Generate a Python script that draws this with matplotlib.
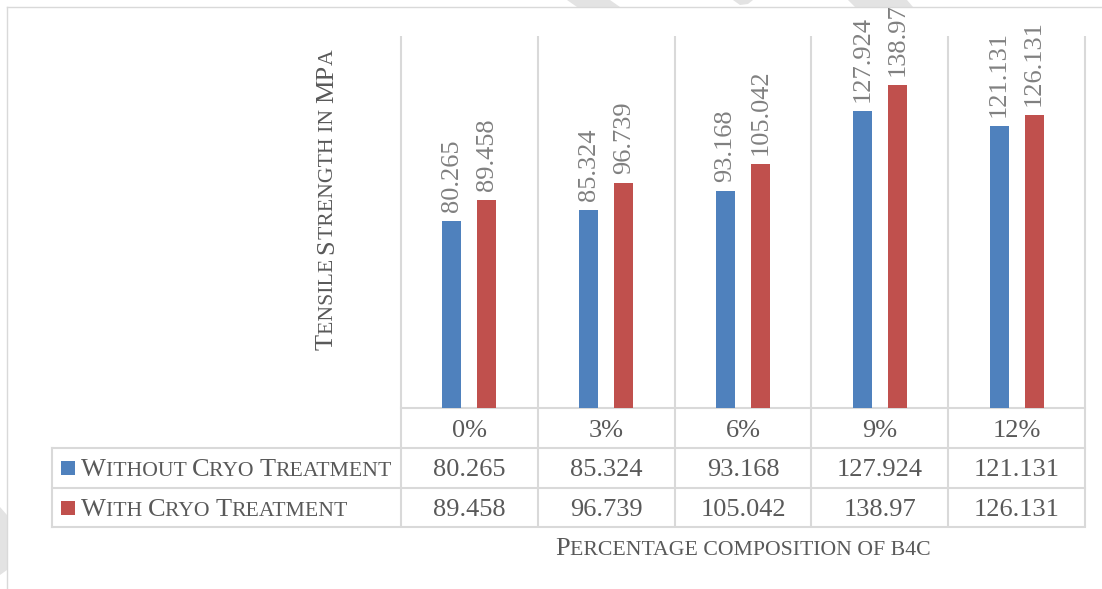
import numpy as np
import matplotlib
matplotlib.use("Agg")
import matplotlib.pyplot as plt
from matplotlib.patches import Polygon, Rectangle

# ---------------- data ----------------
categories = ["0%", "3%", "6%", "9%", "12%"]
without_cryo = [80.265, 85.324, 93.168, 127.924, 121.131]
with_cryo = [89.458, 96.739, 105.042, 138.97, 126.131]
series_names = ["Without Cryo Treatment", "With Cryo Treatment"]
y_title = "Tensile Strength in MPa"
x_title = "Percentage composition of b4c"

# ---------------- style ----------------
W, H, DPI = 1102, 589, 100
FONT = "Liberation Serif"
GRAY = "#595959"
LABEL_GRAY = "#808080"
LINE = "#d9d9d9"
BLUE = "#4f81bd"
RED = "#c0504d"
BIG, SMALL = 19, 15.7

fig = plt.figure(figsize=(W / DPI, H / DPI), dpi=DPI)
fig.patch.set_facecolor("white")

# overlay axes in pixel coordinates (y downward)
ov = fig.add_axes([0, 0, 1, 1], zorder=0)
ov.set_xlim(0, W)
ov.set_ylim(H, 0)
ov.axis("off")

# plot area (pixels)
L, R, T, B = 401, 1085, 36, 408
ax = fig.add_axes([L / W, 1 - B / H, (R - L) / W, (B - T) / H], zorder=1)
ax.patch.set_alpha(0)
x = np.arange(len(categories))
off, bw = 0.128, 0.139
series = [without_cryo, with_cryo]
colors = [BLUE, RED]
for k, (vals, col) in enumerate(zip(series, colors)):
    xs = x + (-off if k == 0 else off)
    ax.bar(xs, vals, bw, color=col, zorder=2)
    for xi, v in zip(xs, vals):
        ax.annotate(f"{v}", xy=(xi, v), xytext=(0, 6.5), textcoords="offset points",
                    rotation=90, ha="center", va="bottom", fontsize=19,
                    color=LABEL_GRAY, family=FONT)
ax.set_xlim(-0.5, len(categories) - 0.5)
ax.set_ylim(0, 160)
ax.axis("off")

# column edges in pixels from the axes transform
def to_px(xd):
    return ax.transData.transform((xd, 0))[0]

edges = [to_px(e) for e in np.arange(-0.5, len(categories), 1.0)]
centers = [to_px(c) for c in x]

# table geometry
rows = [408, 448, 488, 527]
TL = 52
for e in edges:
    ov.plot([e, e], [T, rows[-1]], color=LINE, lw=1.5, solid_capstyle="butt")
ov.plot([edges[0], edges[-1]], [rows[0], rows[0]], color=LINE, lw=1.5)
for r in rows[1:]:
    ov.plot([TL, edges[-1]], [r, r], color=LINE, lw=1.5)
ov.plot([TL, TL], [rows[1], rows[-1]], color=LINE, lw=1.5)

# outer chart border and watermark fragments
ov.plot([7, W], [7, 7], color=LINE, lw=1)
ov.plot([7, 7], [7, H], color=LINE, lw=1)
for pts in [[(567, 0), (610, 0), (620, 7), (577, 7)],
            [(733, 0), (753, 0), (748, 4), (740, 5)],
            [(848, 0), (907, 0), (913, 7), (855, 7)],
            [(0, 507), (7, 515), (7, 570), (0, 575)]]:
    ov.add_patch(Polygon(pts, closed=True, color="#e3e3e3", lw=0))

renderer = fig.canvas.get_renderer()


def _w(txt, size):
    t = fig.text(0, 0, txt, fontsize=size, family=FONT)
    bb = t.get_window_extent(renderer)
    t.remove()
    return bb.width


def adv(s, size):
    return _w("X" + s + "X", size) - _w("XX", size)


def runs(text):
    out = []
    for ch in text:
        if ch.isalpha() and ch.isupper():
            sz, c = BIG, ch
        elif ch.isalpha():
            sz, c = SMALL, ch.upper()
        else:
            sz, c = SMALL, ch
        if out and out[-1][1] == sz:
            out[-1][0] += c
        else:
            out.append([c, sz])
    return out


def smallcaps(px, py, text, rotation=0, ha="left"):
    rs = runs(text)
    advs = [adv(s, sz) for s, sz in rs]
    total = sum(advs)
    pos = -total / 2 if ha == "center" else 0.0
    for (s, sz), a in zip(rs, advs):
        if rotation == 0:
            ov.text(px + pos, py, s, fontsize=sz, family=FONT, color=GRAY,
                    ha="left", va="baseline")
        else:
            ov.text(px, py - pos, s, fontsize=sz, family=FONT, color=GRAY,
                    ha="left", va="baseline", rotation=90, rotation_mode="anchor")
        pos += a


# category row
for c, lab in zip(centers, categories):
    ov.text(c, (rows[0] + rows[1]) / 2 + 9, lab, fontsize=19, family=FONT,
            color=GRAY, ha="center", va="baseline")

# series rows
for k, (name, vals, col) in enumerate(zip(series_names, series, colors)):
    rc = (rows[k + 1] + rows[k + 2]) / 2
    ov.add_patch(Rectangle((61, rc - 7), 14, 14, color=col, lw=0))
    smallcaps(81, rc + 8, name)
    for c, v in zip(centers, vals):
        ov.text(c, rc + 8, f"{v}", fontsize=19, family=FONT, color=GRAY,
                ha="center", va="baseline")

# axis titles
smallcaps(333, 200, y_title, rotation=90, ha="center")
smallcaps((edges[0] + edges[-1]) / 2, 555, x_title, ha="center")

fig.savefig("out.png", dpi=DPI, facecolor="white")
